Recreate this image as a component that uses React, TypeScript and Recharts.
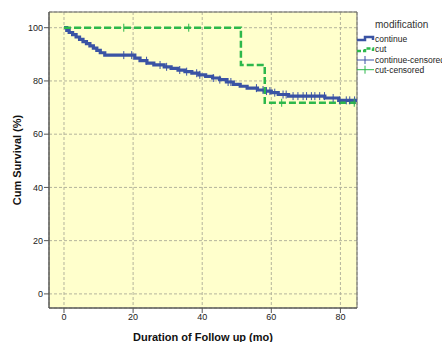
import React from 'react';
import { ComposedChart, Line, Scatter, XAxis, YAxis, CartesianGrid, Legend, ReferenceArea } from 'recharts';

const continueTimes = [0, 0.8, 1.5, 2.5, 3.5, 4.5, 5.5, 6.5, 7.5, 8.5, 9.5, 10.5, 11.8, 20.5, 22, 24, 26, 29, 31, 33, 35, 37, 39, 41, 43, 45, 47, 49, 51, 53, 56, 58, 60, 62, 65, 75.5, 79.5, 85];
const continueValues = [100, 99, 98.2, 97.4, 96.5, 95.6, 94.8, 94, 93.2, 92.3, 91.5, 90.6, 89.7, 88.6, 87.6, 86.7, 86, 85.3, 84.7, 84.1, 83.5, 82.9, 82.3, 81.7, 81.1, 80.5, 79.6, 78.7, 78, 77.3, 76.6, 76.2, 75.6, 74.9, 74.3, 73.6, 72.7, 72.7];
const cutTimes = [0, 51.2, 58.1, 85];
const cutValues = [100, 86, 71.8, 71.8];
const continueCensorTimes = [17.3, 19.6, 23.9, 27.8, 29.7, 33.5, 35.5, 38.4, 39.3, 43.2, 45.1, 47.5, 48.3, 55.7, 57.6, 58.6, 59.6, 61, 63.4, 64.3, 66.3, 67.7, 69.2, 70.2, 71.6, 72.6, 74, 75.4, 77.9, 79.8, 81.7, 82.7, 84.1];
const cutCensorTimes = [17.3, 36.1, 63, 84];
const xTicks = [0, 20, 40, 60, 80];
const yTicks = [0, 20, 40, 60, 80, 100];
const legendTitle = 'modification';
const legendLabels = ['continue', 'cut', 'continue-censored', 'cut-censored'];

const BLUE = '#3a53a4';
const GREEN = '#2db84b';
const FONT = '"Liberation Sans", Arial, sans-serif';
const X_DOMAIN: [number, number] = [-4.34, 84.8];
const Y_DOMAIN: [number, number] = [-5.3, 105.9];

const stepValue = (times: number[], values: number[], t: number) => {
  let v = values[0];
  for (let i = 0; i < times.length; i++) {
    if (times[i] <= t) v = values[i];
  }
  return v;
};

const continueData = continueTimes.map((t, i) => ({ t, v: continueValues[i] }));
const cutData = cutTimes.map((t, i) => ({ t, v: cutValues[i] }));
const continueCensor = continueCensorTimes.map((t) => ({ t, v: stepValue(continueTimes, continueValues, t) }));
const cutCensor = cutCensorTimes.map((t) => ({ t, v: stepValue(cutTimes, cutValues, t) }));

const censorShape = (color: string) => (props: any) => {
  const { cx, cy } = props;
  return <line x1={cx} x2={cx} y1={cy - 4} y2={cy + 4} stroke={color} strokeWidth={1} />;
};

const LegendContent = () => (
  <svg width={92} height={72} style={{ overflow: 'visible', fontFamily: FONT }}>
    <text x={25} y={17.5} fontSize={10} fill="#333">{legendTitle}</text>
    <path d="M7,30 H15 V27 H23 V30" fill="none" stroke={BLUE} strokeWidth={2.5} />
    <text x={25} y={32.3} fontSize={8.5} fill="#222">{legendLabels[0]}</text>
    <path d="M7,41 H15 V38.5 H23 V41" fill="none" stroke={GREEN} strokeWidth={2.5} strokeDasharray="4 2" />
    <text x={25} y={42.3} fontSize={8.5} fill="#222">{legendLabels[1]}</text>
    <line x1={7} x2={24} y1={50} y2={50} stroke={BLUE} strokeWidth={1} />
    <line x1={15} x2={15} y1={46} y2={54} stroke={BLUE} strokeWidth={1} />
    <text x={25} y={53} fontSize={8.5} fill="#222">{legendLabels[2]}</text>
    <line x1={7} x2={24} y1={59.7} y2={59.7} stroke={GREEN} strokeWidth={1} />
    <line x1={15} x2={15} y1={55.7} y2={63.7} stroke={GREEN} strokeWidth={1} />
    <text x={25} y={62.7} fontSize={8.5} fill="#222">{legendLabels[3]}</text>
  </svg>
);

export default function App() {
  return (
    <div style={{ position: 'absolute', left: 0, top: 0, width: 442, height: 342, background: '#fff', overflow: 'hidden' }}>
      <ComposedChart width={442} height={342} margin={{ top: 12, right: 85, left: 0, bottom: 0 }} style={{ fontFamily: FONT }}>
        <CartesianGrid fill="#ffffcc" stroke="#b4b49c" strokeDasharray="3 2" />
        <XAxis
          dataKey="t"
          type="number"
          domain={X_DOMAIN}
          allowDataOverflow
          ticks={xTicks}
          height={34}
          tickSize={5}
          tickMargin={1}
          tick={{ fontSize: 9, fill: '#222' }}
          stroke="#555"
          label={{ value: 'Duration of Follow up (mo)', position: 'insideBottom', offset: 1, style: { fontSize: 11, fontWeight: 'bold', fill: '#111' } }}
        />
        <YAxis
          type="number"
          domain={Y_DOMAIN}
          allowDataOverflow
          ticks={yTicks}
          width={49}
          tickSize={5}
          tickMargin={1}
          tick={{ fontSize: 9, fill: '#222' }}
          stroke="#555"
          label={{ value: 'Cum Survival (%)', angle: -90, position: 'insideLeft', offset: 17, style: { fontSize: 11, fontWeight: 'bold', fill: '#111', textAnchor: 'middle' } }}
        />
        <ReferenceArea x1={X_DOMAIN[0]} x2={X_DOMAIN[1]} y1={Y_DOMAIN[0]} y2={Y_DOMAIN[1]} fill="none" stroke="#666" strokeWidth={1} />
        <Line data={continueData} dataKey="v" type="stepAfter" stroke={BLUE} strokeWidth={3.2} dot={false} isAnimationActive={false} legendType="none" />
        <Line data={cutData} dataKey="v" type="stepAfter" stroke={GREEN} strokeWidth={2.5} strokeDasharray="7 3" dot={false} isAnimationActive={false} legendType="none" />
        <Scatter data={continueCensor} dataKey="v" shape={censorShape(BLUE)} isAnimationActive={false} legendType="none" />
        <Scatter data={cutCensor} dataKey="v" shape={censorShape(GREEN)} isAnimationActive={false} legendType="none" />
        <Legend
          layout="vertical"
          align="center"
          verticalAlign="middle"
          wrapperStyle={{ position: 'absolute', left: 350, top: 10, width: 92, height: 72 }}
          content={() => <LegendContent />}
        />
      </ComposedChart>
    </div>
  );
}
